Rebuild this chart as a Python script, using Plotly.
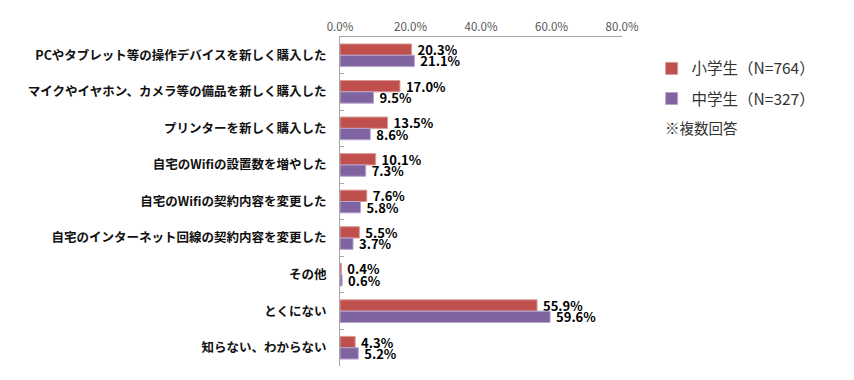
import plotly.graph_objects as go

categories = [
    "PCやタブレット等の操作デバイスを新しく購入した",
    "マイクやイヤホン、カメラ等の備品を新しく購入した",
    "プリンターを新しく購入した",
    "自宅のWifiの設置数を増やした",
    "自宅のWifiの契約内容を変更した",
    "自宅のインターネット回線の契約内容を変更した",
    "その他",
    "とくにない",
    "知らない、わからない",
]
elementary = [20.3, 17.0, 13.5, 10.1, 7.6, 5.5, 0.4, 55.9, 4.3]
junior = [21.1, 9.5, 8.6, 7.3, 5.8, 3.7, 0.6, 59.6, 5.2]
series_names = ["小学生（N=764）", "中学生（N=327）"]
tick_vals = [0, 20, 40, 60, 80]
tick_text = ["0.0%", "20.0%", "40.0%", "60.0%", "80.0%"]

FONT = "Noto Sans CJK JP"

fig = go.Figure()
for name, vals, color, line_color, grp in [
    (series_names[0], elementary, "#C0504D", "#D99A98", "a"),
    (series_names[1], junior, "#8064A2", "#B7A6CE", "b"),
]:
    fig.add_trace(go.Bar(
        y=categories, x=vals, name=name, orientation="h",
        marker=dict(color=color, line=dict(color=line_color, width=1)),
        text=[f"\u00a0{v:.1f}%" for v in vals],
        textposition="outside",
        constraintext="none",
        cliponaxis=False,
        textfont=dict(family=FONT, size=13, color="#000000", weight="bold"),
        legendgroup=grp,
        hoverinfo="skip",
    ))

fig.update_layout(
    width=854, height=380,
    margin=dict(l=332, r=240, t=29, b=22, autoexpand=False),
    paper_bgcolor="white", plot_bgcolor="white",
    barmode="group", bargap=0.38, bargroupgap=0,
    font=dict(family=FONT),
    showlegend=True,
    legend=dict(
        x=1.105, y=0.955, xanchor="left", yanchor="top",
        font=dict(family=FONT, size=15.5, color="#333333"),
        traceorder="grouped", tracegroupgap=7,
        itemwidth=30, bgcolor="rgba(0,0,0,0)",
    ),
    xaxis=dict(
        side="top", range=[0, 80], tickvals=tick_vals, ticktext=tick_text,
        showgrid=False, zeroline=False, showline=True, linecolor="#A6A6A6",
        linewidth=1, ticks="", tickfont=dict(family=FONT, size=11.5, color="#555555"),
        fixedrange=True, automargin=False,
    ),
    yaxis=dict(
        autorange="reversed", showgrid=False, showline=True, linecolor="#A6A6A6",
        linewidth=1, ticks="inside", tickson="boundaries", ticklen=4,
        tickcolor="#A6A6A6",
        tickfont=dict(family=FONT, size=12.5, color="#111111", weight="bold"),
        ticklabelstandoff=10, fixedrange=True, automargin=False,
    ),
    annotations=[dict(
        text="※複数回答", xref="paper", yref="paper", x=1.145, y=0.726,
        xanchor="left", yanchor="middle", showarrow=False,
        font=dict(family=FONT, size=14.5, color="#333333"),
    )],
)

fig.write_html("out.html")
